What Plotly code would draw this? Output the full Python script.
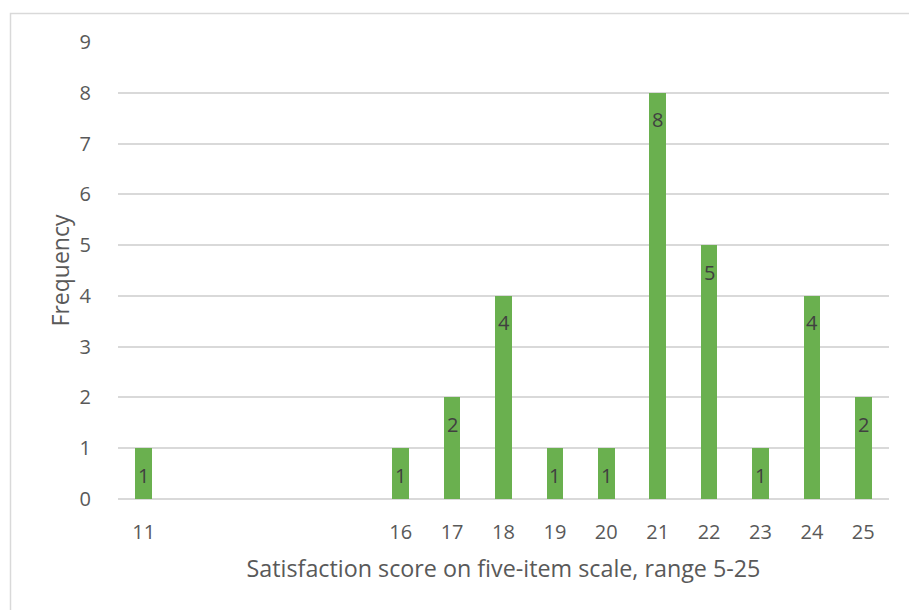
import plotly.graph_objects as go

# Satisfaction scores (five-item scale, range 5-25) and how often each occurred
scores = [11, 16, 17, 18, 19, 20, 21, 22, 23, 24, 25]
frequency = [1, 1, 2, 4, 1, 1, 8, 5, 1, 4, 2]
y_ticks = list(range(0, 10))

BAR_GREEN = "#6AB04F"
GRID = "#D9D9D9"
TICK_TXT = "#595959"
LABEL_TXT = "#404040"
FONT = "Open Sans"

W, H = 909, 610
L, R, T, B = 118, 20, 42, 111
pw, ph = W - L - R, H - T - B

fig = go.Figure()
fig.add_trace(go.Bar(
    x=scores,
    y=frequency,
    width=0.32,
    marker=dict(color=BAR_GREEN, line=dict(width=0)),
    hoverinfo="x+y",
))

# value labels just inside the top of each bar
for s, f in zip(scores, frequency):
    fig.add_annotation(
        x=s, y=f, text=str(f), showarrow=False,
        xref="x", yref="y", yanchor="middle", yshift=-27,
        font=dict(family=FONT, size=20, color=LABEL_TXT),
    )

# chart-area border
def px_to_paper_x(px):
    return (px - L) / pw

def px_to_paper_y(py):
    return (H - B - py) / ph

fig.add_shape(
    type="rect", xref="paper", yref="paper",
    x0=px_to_paper_x(10.5), x1=px_to_paper_x(W + 10),
    y0=px_to_paper_y(H + 10), y1=px_to_paper_y(13.5),
    line=dict(color=GRID, width=1.5), fillcolor="rgba(0,0,0,0)", layer="below",
)

fig.update_layout(
    width=W, height=H,
    margin=dict(l=L, r=R, t=T, b=B, pad=0),
    paper_bgcolor="white", plot_bgcolor="white",
    showlegend=False,
    font=dict(family=FONT, color=TICK_TXT),
    bargap=0,
    xaxis=dict(
        range=[10.5, 25.5],
        tickmode="array", tickvals=scores, ticktext=[str(s) for s in scores],
        showgrid=False, zeroline=False,
        showline=False, ticks="outside", ticklen=15, tickcolor="rgba(0,0,0,0)",
        tickfont=dict(family=FONT, size=20, color=TICK_TXT),
        title=dict(text="Satisfaction score on five-item scale, range 5-25",
                   font=dict(family=FONT, size=23.3, color=TICK_TXT), standoff=16),
        fixedrange=True,
    ),
    yaxis=dict(
        range=[0, 9],
        tickmode="array", tickvals=y_ticks,
        showgrid=True, gridcolor=GRID, gridwidth=1.5,
        zeroline=True, zerolinecolor=GRID, zerolinewidth=1.5,
        showline=False, ticks="outside", ticklen=22, tickcolor="rgba(0,0,0,0)",
        tickfont=dict(family=FONT, size=20, color=TICK_TXT),
        title=dict(text="Frequency", font=dict(family=FONT, size=23, color=TICK_TXT),
                   standoff=3),
        fixedrange=True,
    ),
)

fig.write_html("out.html")
